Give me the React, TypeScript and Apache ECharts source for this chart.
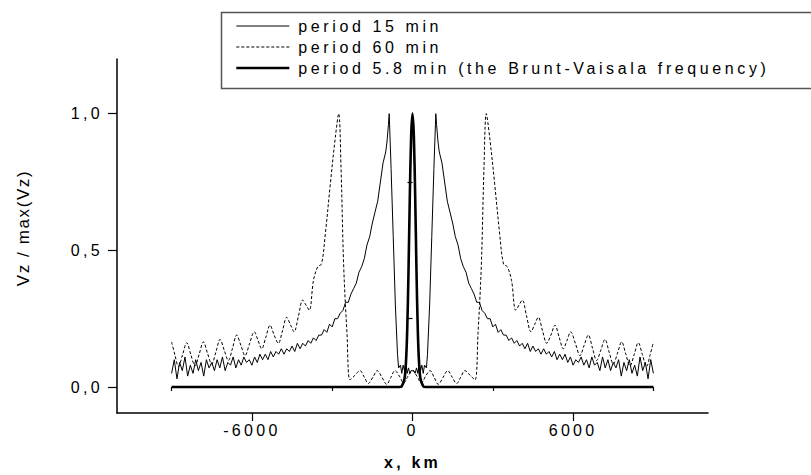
import React, { useEffect, useRef } from "react";
import * as echarts from "echarts";

// ---- tick positions / labels ----
const xMajorTicks = [-6000, 0, 6000];
const xMinorTicks = [-9000, -3000, 3000, 9000];
const yMajorTicks = [0, 0.5, 1.0];
const yMinorTicks = [0.25, 0.75];

const seriesNames = [
  "period 15 min",
  "period 60 min",
  "period 5.8 min (the Brunt-Vaisala frequency)",
];

// ---- period 15 min (left half incl. 0; right half is its mirror) ----
const thinX = [
  -9000, -8900, -8800, -8700, -8600, -8500, -8400, -8300, -8200, -8100,
  -8000, -7900, -7800, -7700, -7600, -7500, -7400, -7300, -7200, -7100,
  -7000, -6900, -6800, -6700, -6600, -6500, -6400, -6300, -6200, -6100,
  -6000, -5900, -5800, -5700, -5600, -5500, -5400, -5300, -5200, -5100,
  -5000, -4900, -4800, -4700, -4600, -4500, -4400, -4300, -4200, -4100,
  -4000, -3900, -3800, -3700, -3600, -3500, -3400, -3300, -3200, -3100,
  -3000, -2900, -2800, -2700, -2600, -2500, -2400, -2300, -2200, -2100,
  -2000, -1900, -1800, -1700, -1600, -1500, -1400, -1300, -1200, -1100,
  -1000, -950, -900, -870, -800, -720, -640, -560, -520, -450,
  -400, -350, -300, -250, -200, -150, -100, -50, 0,
];
const thinY = [
  0.05, 0.10, 0.03, 0.09, 0.06, 0.11, 0.04, 0.08, 0.05, 0.10,
  0.06, 0.09, 0.04, 0.10, 0.07, 0.09, 0.06, 0.10, 0.07, 0.11,
  0.06, 0.09, 0.08, 0.11, 0.07, 0.10, 0.08, 0.11, 0.09, 0.10,
  0.08, 0.11, 0.09, 0.12, 0.10, 0.12, 0.10, 0.13, 0.11, 0.13,
  0.12, 0.14, 0.12, 0.14, 0.13, 0.15, 0.13, 0.16, 0.14, 0.16,
  0.15, 0.17, 0.16, 0.18, 0.17, 0.19, 0.19, 0.21, 0.20, 0.23,
  0.22, 0.25, 0.25, 0.27, 0.28, 0.31, 0.31, 0.34, 0.36, 0.38,
  0.42, 0.44, 0.47, 0.52, 0.55, 0.60, 0.64, 0.68, 0.75, 0.82,
  0.86, 0.90, 0.96, 1.0, 0.80, 0.55, 0.30, 0.12, 0.07, 0.08,
  0.05, 0.08, 0.06, 0.09, 0.05, 0.07, 0.05, 0.06, 0.06,
];

// ---- period 60 min (left half incl. 0) ----
const dashX = [
  -9000, -8870, -8746, -8590, -8435, -8280, -8125, -7970, -7813, -7660,
  -7502, -7345, -7191, -7035, -6880, -6725, -6568, -6410, -6257, -6090,
  -5910, -5770, -5633, -5480, -5323, -5170, -5012, -4860, -4700, -4560,
  -4427, -4260, -4102, -3980, -3855, -3700, -3542, -3400, -3257, -3070,
  -2884, -2757, -2671, -2570, -2447, -2335, -2150, -1961, -1800, -1651,
  -1480, -1315, -1140, -964, -810, -654, -490, -330, -165, 0,
];
const dashY = [
  0.165, 0.115, 0.075, 0.118, 0.162, 0.118, 0.077, 0.12, 0.165, 0.124,
  0.084, 0.128, 0.174, 0.135, 0.097, 0.142, 0.19, 0.152, 0.115, 0.158,
  0.202, 0.17, 0.14, 0.182, 0.226, 0.19, 0.16, 0.205, 0.255, 0.228,
  0.202, 0.26, 0.318, 0.30, 0.281, 0.39, 0.44, 0.45, 0.56, 0.743,
  0.913, 1.0, 0.804, 0.44, 0.196, 0.026, 0.043, 0.06, 0.036, 0.013,
  0.036, 0.06, 0.035, 0.01, 0.035, 0.06, 0.04, 0.015, 0.04, 0.06,
];

// ---- period 5.8 min (left half incl. 0) ----
const thickX = [-9000, -500, -400, -300, -250, -200, -150, -100, -50, 0];
const thickY = [0, 0, 0.003, 0.03, 0.08, 0.2, 0.42, 0.7, 0.92, 1.0];

function mirrored(xs: number[], ys: number[]): number[][] {
  const out: number[][] = xs.map((x, i) => [x, ys[i]]);
  for (let i = xs.length - 2; i >= 0; i--) out.push([-xs[i], ys[i]]);
  return out;
}

const FONT = "'Liberation Sans', Arial, sans-serif";
const spaced = (px: number) => `${FONT}; letter-spacing: ${px}px`;

export default function App() {
  const ref = useRef<HTMLDivElement>(null);
  useEffect(() => {
    if (!ref.current) return;
    const chart = echarts.init(ref.current, null, { renderer: "svg" });
    const XMIN = -11040;
    const XMAX = 11040;
    const YMIN = -0.095;
    const YMAX = 1.2;
    chart.setOption({
      animation: false,
      backgroundColor: "#fff",
      grid: { left: 117, right: 103, top: 59, bottom: 62, containLabel: false },
      legend: {
        orient: "vertical",
        left: 235,
        top: 18,
        padding: 0,
        itemWidth: 53,
        itemHeight: 14,
        itemGap: 5,
        selectedMode: false,
        data: seriesNames,
        itemStyle: { opacity: 0 },
        lineStyle: { width: "inherit" },
        textStyle: {
          color: "#000",
          fontSize: 16,
          lineHeight: 16,
          fontFamily: spaced(3.6),
          padding: [0, 0, 0, 4],
        },
      },
      graphic: [
        {
          type: "rect",
          left: 219,
          top: 10,
          shape: { width: 700, height: 76 },
          style: { fill: "none", stroke: "#555", lineWidth: 1.5 },
          z: -1,
        },
      ],
      xAxis: [
        {
          type: "value",
          min: XMIN,
          max: XMAX,
          name: "x, km",
          nameLocation: "middle",
          nameGap: 49,
          nameTextStyle: {
            color: "#000",
            fontSize: 16,
            fontWeight: "bold",
            fontFamily: spaced(3.2),
            verticalAlign: "middle",
          },
          axisLine: { show: true, onZero: false, lineStyle: { color: "#000", width: 1.5 } },
          axisTick: { show: true, customValues: xMajorTicks, length: 8, lineStyle: { color: "#000", width: 1.2 } },
          axisLabel: {
            customValues: xMajorTicks,
            margin: 12,
            color: "#000",
            fontSize: 16,
            fontFamily: spaced(3.3),
            formatter: (v: number) => String(v),
          },
          splitLine: { show: false },
        },
        {
          type: "value",
          min: XMIN,
          max: XMAX,
          position: "bottom",
          axisLine: { show: false },
          axisTick: { show: true, customValues: xMinorTicks, length: 4, lineStyle: { color: "#000", width: 1.2 } },
          axisLabel: { show: false },
          splitLine: { show: false },
        },
      ],
      yAxis: [
        {
          type: "value",
          min: YMIN,
          max: YMAX,
          name: "Vz / max(Vz)",
          nameLocation: "middle",
          nameGap: 94,
          nameTextStyle: {
            color: "#000",
            fontSize: 17,
            fontFamily: spaced(1.6),
            verticalAlign: "middle",
            padding: [0, 0, 0, 16],
          },
          axisLine: { show: true, onZero: false, lineStyle: { color: "#000", width: 1.5 } },
          axisTick: { show: true, customValues: yMajorTicks, length: 9, lineStyle: { color: "#000", width: 1.2 } },
          axisLabel: {
            customValues: yMajorTicks,
            margin: 14,
            color: "#000",
            fontSize: 16,
            fontFamily: spaced(3.3),
            formatter: (v: number) => v.toFixed(1).replace(".", ","),
          },
          splitLine: { show: false },
        },
        {
          type: "value",
          min: YMIN,
          max: YMAX,
          position: "left",
          axisLine: { show: false },
          axisTick: { show: true, customValues: yMinorTicks, length: 5, lineStyle: { color: "#000", width: 1.2 } },
          axisLabel: { show: false },
          splitLine: { show: false },
        },
      ],
      series: [
        {
          name: seriesNames[0],
          type: "line",
          data: mirrored(thinX, thinY),
          showSymbol: false,
          symbol: "none",
          lineStyle: { color: "#000", width: 1 },
          itemStyle: { color: "#000" },
          z: 2,
        },
        {
          name: seriesNames[1],
          type: "line",
          data: mirrored(dashX, dashY),
          showSymbol: false,
          symbol: "none",
          smooth: 0.35,
          lineStyle: { color: "#000", width: 1, type: [3, 2] },
          itemStyle: { color: "#000" },
          z: 2,
        },
        {
          name: seriesNames[2],
          type: "line",
          data: mirrored(thickX, thickY),
          showSymbol: false,
          symbol: "none",
          smooth: 0.3,
          lineStyle: { color: "#000", width: 2.6 },
          itemStyle: { color: "#000" },
          z: 3,
        },
      ],
    });
    return () => chart.dispose();
  }, []);
  return (
    <div
      ref={ref}
      style={{ position: "absolute", left: 0, top: 0, width: 811, height: 475 }}
    />
  );
}
